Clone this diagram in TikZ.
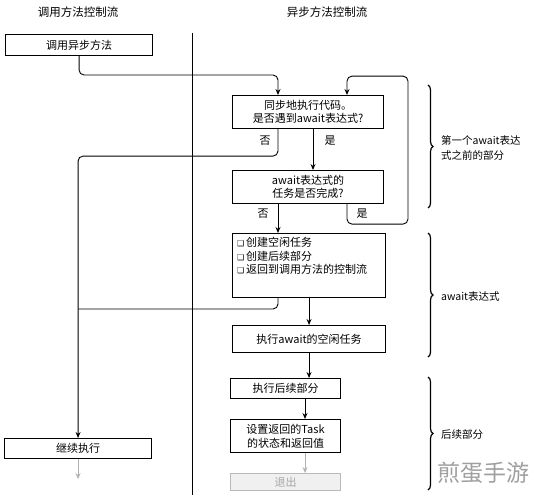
\documentclass[tikz,border=0pt]{standalone}
\usepackage{fontspec}
\setmainfont{Noto Sans CJK SC}
\newfontfamily\dejavu{DejaVu Sans}
\usetikzlibrary{arrows.meta,decorations.pathreplacing,calc}
\newcommand{\cbx}{{\dejavu\fontsize{8}{10}\selectfont ❑}\,}
\begin{document}
\begin{tikzpicture}[x=1pt,y=-1pt,
  box/.style={draw,line width=1.1pt,inner sep=0pt,anchor=north west,align=center,
    font=\fontsize{11}{13.5}\selectfont},
  greybox/.style={box,draw=gray!55,fill=gray!12,text=gray!70},
  arr/.style={line width=0.9pt,-{Stealth[length=6pt,width=5pt]},rounded corners=5pt},
  ln/.style={line width=0.9pt,rounded corners=5pt},
  garr/.style={arr,draw=gray!60},
  lbl/.style={font=\fontsize{11}{13.5}\selectfont,inner sep=0pt},
  hdr/.style={font=\fontsize{11.5}{14}\selectfont,inner sep=0pt},
  side/.style={font=\fontsize{10.5}{15}\selectfont,inner sep=0pt,anchor=west,align=left},
  brc/.style={decorate,decoration={brace,amplitude=5pt},line width=1.2pt}
]
\useasboundingbox (0,0) rectangle (535,500);

% headers and divider
\node[hdr] (h1) at (78,12) {调用方法控制流};
\node[hdr] (h2) at (327,12) {异步方法控制流};
\coordinate (dtop) at (192,33);
\coordinate (dbot) at (192,495);
\draw[line width=0.7pt] (dtop) -- (dbot);

% boxes
\node[box,minimum width=147,minimum height=21] (call) at (5,34) {调用异步方法};
\node[box,minimum width=151,minimum height=33] (b1) at (232,95) {同步地执行代码。\\是否遇到await表达式?};
\node[box,minimum width=151,minimum height=33] (b2) at (232,170) {await表达式的\\任务是否完成?};
\node[box,minimum width=153,minimum height=64] (b3) at (232,233) {};
\node[lbl,anchor=north west,align=left] (b3t) at ($(b3.north west)+(5,4)$)
  {\cbx 创建空闲任务\\\cbx 创建后续部分\\\cbx 返回到调用方法的控制流};
\node[box,minimum width=153,minimum height=27] (b4) at (232,325) {执行await的空闲任务};
\node[box,minimum width=110,minimum height=20] (b5) at (230,378) {执行后续部分};
\node[box,minimum width=110,minimum height=33] (b6) at (230,419) {设置返回的Task\\的状态和返回值};
\node[greybox,minimum width=110,minimum height=17] (b7) at (230,473) {退出};
\node[box,minimum width=147,minimum height=20] (cont) at (4,438) {继续执行};

% connection points
\coordinate (b1inL) at ($(b1.north west)+(46,0)$);
\coordinate (b1inR) at ($(b1.north west)+(115,0)$);
\coordinate (b1outL) at ($(b1.south west)+(46,0)$);
\coordinate (b1outM) at ($(b1.south west)+(81,0)$);
\coordinate (b2inM) at ($(b2.north west)+(81,0)$);
\coordinate (b2outL) at ($(b2.south west)+(46,0)$);
\coordinate (b2outR) at ($(b2.south west)+(115,0)$);
\coordinate (b3inL) at ($(b3.north west)+(46,0)$);
\coordinate (b3outL) at ($(b3.south west)+(46,0)$);
\coordinate (b5outR) at ($(b5.south west)+(75,0)$);
\coordinate (b6inR) at ($(b6.north west)+(75,0)$);
\coordinate (b6outR) at ($(b6.south west)+(75,0)$);
\coordinate (b7inR) at ($(b7.north west)+(75,0)$);
\coordinate (contend) at ($(cont.south)+(0,20)$);

% connectors
\draw[arr] (call.south) |- ($(b1inL)+(0,-20)$) -- (b1inL);
\draw[arr] (b1outL) -- ++(0,27) -| (cont.north);
\draw[ln] (b3outL) |- ($(cont.north)+(0,-129)$);
\draw[arr] (b1outM) -- (b2inM);
\draw[arr] (b2outL) -- (b3inL);
\draw[arr] (b2outR) -- ++(0,20) -- ++(61,0) -- ++(0,-148) -- ++(-61,0) -- (b1inR);
\draw[arr] (b3.south) -- (b4.north);
\draw[arr] (b4.south) -- (b4.south |- b5.north);
\draw[arr] (b5outR) -- (b6inR);
\draw[garr] (b6outR) -- (b7inR);
\draw[garr] (cont.south) -- (contend);

% branch labels
\node[lbl] (n1) at (265,141) {否};
\node[lbl] (y1) at (330,141) {是};
\node[lbl] (n2) at (263,214) {否};
\node[lbl] (y2) at (362,214) {是};

% braces
\coordinate (br1a) at (428,85);
\coordinate (br1b) at (428,208);
\coordinate (br2a) at (428,233);
\coordinate (br2b) at (428,357);
\coordinate (br3a) at (428,377);
\coordinate (br3b) at (428,490);
\draw[brc] (br1a) -- (br1b);
\draw[brc] (br2a) -- (br2b);
\draw[brc] (br3a) -- (br3b);
\node[side] (s1) at (441,148) {第一个await表达\\式之前的部分};
\node[side] (s2) at (441,297) {await表达式};
\node[side] (s3) at (441,434) {后续部分};

% watermark
\node[font=\fontsize{23}{26}\selectfont,text=gray!75,inner sep=0pt] (wm) at (483,473) {煎蛋手游};
\end{tikzpicture}
\end{document}
